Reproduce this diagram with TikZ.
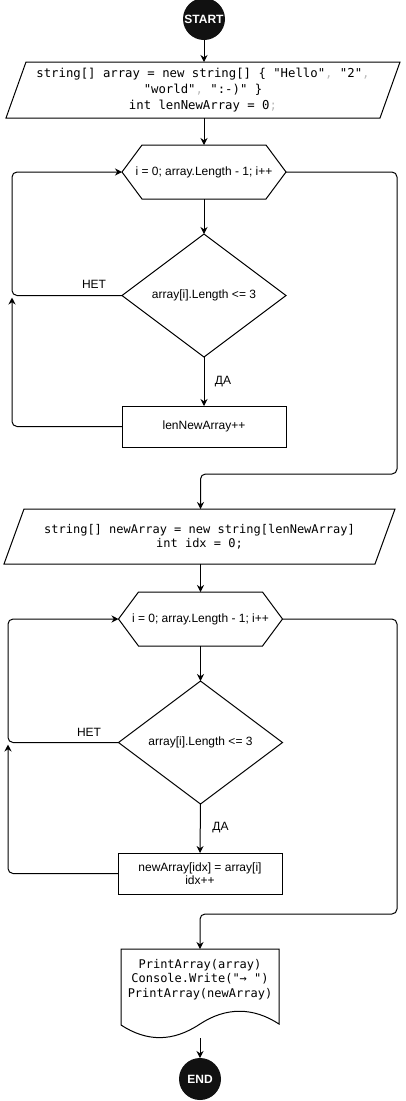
\documentclass[tikz,border=0pt]{standalone}
\usepackage{fontspec}
\setmainfont{Liberation Sans}
\newfontfamily\monof{DejaVu Sans Mono}
\usetikzlibrary{arrows.meta,shapes.geometric}
\definecolor{termfill}{HTML}{111111}
\definecolor{softgray}{HTML}{BBBBBB}
\tikzset{
  every node/.style={inner sep=0pt, outer sep=0pt},
  term/.style={circle, fill=termfill, minimum size=42pt, text=white,
    font=\bfseries\fontsize{12}{14}\selectfont},
  ghost/.style={draw=none, align=center},
  plain/.style={font=\fontsize{12}{14}\selectfont, align=center},
  code/.style={font=\monof\fontsize{12.3}{16}\selectfont, align=center},
  codesm/.style={font=\monof\fontsize{12}{14.3}\selectfont, align=center},
  procbox/.style={draw, plain, minimum width=164pt, minimum height=41pt},
  decision/.style={diamond, draw, plain, minimum width=164pt, minimum height=123pt},
  loophead/.style={ghost, plain, minimum width=164pt, minimum height=54pt},
  flow/.style={-{Stealth[length=7pt,width=7pt]}, rounded corners=5pt},
  lbl/.style={font=\fontsize{12}{14}\selectfont}
}
\begin{document}
\begin{tikzpicture}[x=1pt, y=-1pt, line width=1pt]
\useasboundingbox (0,0) rectangle (405,1101);

% ---- nodes ----
\node[term] (start) at (204,19) {START};

\node[ghost, code, minimum width=394pt, minimum height=56pt] (p1) at (203,90)
  {string[] array = new string[] \{ "Hello"\textcolor{softgray}{, }"2"\textcolor{softgray}{,}\\
   "world"\textcolor{softgray}{, }":-)" \}\\
   int lenNewArray = 0\textcolor{softgray}{;}};
\draw ([xshift=20pt]p1.north west) -- (p1.north east)
   -- ([xshift=-20pt]p1.south east) -- (p1.south west) -- cycle;

\node[loophead] (h1) at (204,172) {i = 0; array.Length - 1; i++};
\draw (h1.west) -- ([xshift=20pt]h1.north west) -- ([xshift=-20pt]h1.north east)
   -- (h1.east) -- ([xshift=-20pt]h1.south east) -- ([xshift=20pt]h1.south west) -- cycle;

\node[decision] (d1) at (204,295.5) {array[i].Length <= 3};
\node[procbox] (r1) at (204,426.5) {lenNewArray++};

\node[ghost, codesm, minimum width=391pt, minimum height=55pt] (p2) at (199.5,536.5)
  {string[] newArray = new string[lenNewArray]\\ int idx = 0;};
\draw ([xshift=20pt]p2.north west) -- (p2.north east)
   -- ([xshift=-20pt]p2.south east) -- (p2.south west) -- cycle;

\node[loophead] (h2) at (200.5,619) {i = 0; array.Length - 1; i++};
\draw (h2.west) -- ([xshift=20pt]h2.north west) -- ([xshift=-20pt]h2.north east)
   -- (h2.east) -- ([xshift=-20pt]h2.south east) -- ([xshift=20pt]h2.south west) -- cycle;

\node[decision] (d2) at (200.5,742.5) {array[i].Length <= 3};
\node[procbox, font=\fontsize{12}{13}\selectfont] (r2) at (200,873.5) {newArray[idx] = array[i]\\ idx++};

\node[ghost, minimum width=158pt, minimum height=89pt] (doc) at (200,993.5) {};
\draw (doc.north west) -- (doc.north east) -- (279,1024)
   .. controls (253,1007) and (226,1007) .. (200,1024)
   .. controls (173,1042) and (147,1042) .. (121,1025) -- cycle;
\node[codesm] (doctxt) at (200,979.5) {PrintArray(array)\\ Console.Write("→ ")\\ PrintArray(newArray)};

\node[term] (end) at (200,1079) {END};

% ---- labels ----
\node[lbl] (no1) at (94,284) {НЕТ};
\node[lbl] (yes1) at (223,382) {ДА};
\node[lbl] (no2) at (89,732) {НЕТ};
\node[lbl] (yes2) at (220.5,828) {ДА};

% ---- junction coordinates ----
\coordinate (j1) at (12,297.5);
\coordinate (j2) at (8,744.5);

% ---- connectors ----
\draw[flow] (start) -- (start |- p1.north);
\draw[flow] (h1.north |- p1.south) -- (h1.north);
\draw[flow] (h1.south) -- (d1.north);
\draw[flow] (d1.west) -- (12,295.5) -- (12,172) -- (h1.west);
\draw[flow] (d1.south) -- (r1.north);
\draw[flow] (r1.west) -- (12,426.5) -- (j1);
\draw[flow] (h1.east) -- (397,172) -- (397,474) -- (200.5,474) -- (200.5,509);

\draw[flow] (h2.north |- p2.south) -- (h2.north);
\draw[flow] (h2.south) -- (d2.north);
\draw[flow] (d2.west) -- (8,742.5) -- (8,619) -- (h2.west);
\draw[flow] (d2.south) -- (r2.north);
\draw[flow] (r2.west) -- (8,873.5) -- (j2);
\draw[flow] (h2.east) -- (397,619) -- (397,914) -- (200,914) -- (doc.north);
\draw[flow] (doc.south) -- (end.north);
\end{tikzpicture}
\end{document}
